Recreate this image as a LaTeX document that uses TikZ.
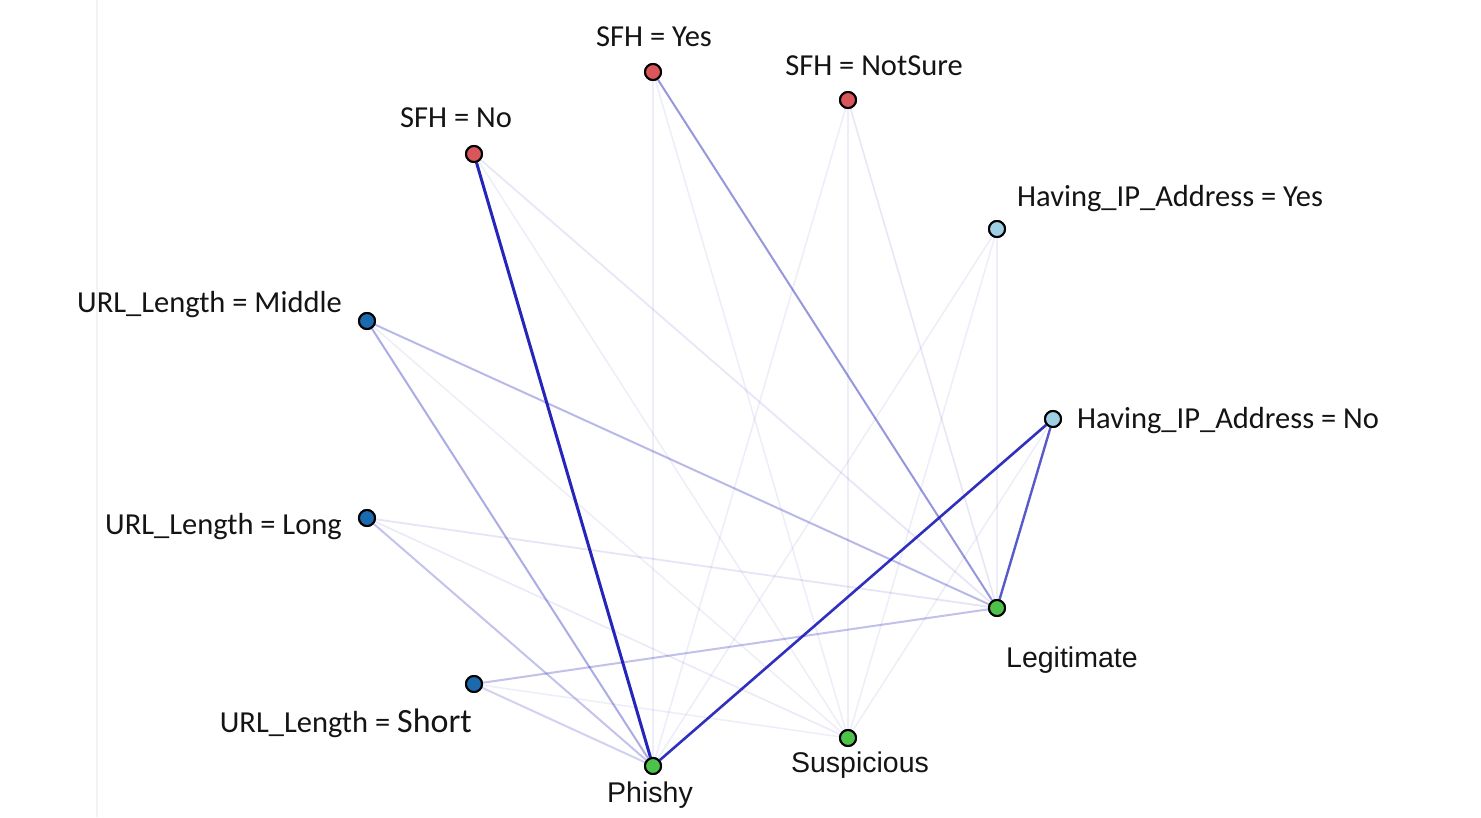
\documentclass[tikz,border=0pt]{standalone}
\usepackage{fontspec}
\setmainfont{Carlito}
\newfontfamily\arialf{Liberation Sans}
\definecolor{redn}{HTML}{D9575A}
\definecolor{lbluen}{HTML}{9ECFE4}
\definecolor{dbluen}{HTML}{1B6AAE}
\definecolor{greenn}{HTML}{4DC24A}
\definecolor{edgeblue}{HTML}{1A1AB8}
\tikzset{
  dot/.style={circle, draw=black, line width=2pt, inner sep=0pt, minimum size=16pt},
  rdot/.style={dot, fill=redn},
  lbdot/.style={dot, fill=lbluen},
  dbdot/.style={dot, fill=dbluen},
  gdot/.style={dot, fill=greenn},
  lab/.style={font=\fontsize{30.5}{32}\selectfont, inner sep=0pt, text=black!92},
  clab/.style={font=\arialf\fontsize{28.5}{30}\selectfont, inner sep=0pt, text=black!92},
  ed/.style={edgeblue, line width=#1},
  faint/.style={ed=1.6pt, opacity=0.07},
  light/.style={ed=1.8pt, opacity=0.16},
  mid/.style={ed=2pt, opacity=0.3},
  strong/.style={ed=2pt, opacity=0.5},
}
\begin{document}
\begin{tikzpicture}[x=1pt,y=-1pt]
\useasboundingbox (0,0) rectangle (1481,817);
\fill[white] (0,0) rectangle (1481,817);
\draw[black!5, line width=1.2pt] (97,0) -- (97,817);
% nodes
\node[rdot]  (sfhyes) at (653,72) {};
\node[rdot]  (sfhns)  at (848,100) {};
\node[rdot]  (sfhno)  at (474,154) {};
\node[lbdot] (ipyes)  at (997,229) {};
\node[dbdot] (urlmid) at (367,321) {};
\node[lbdot] (ipno)   at (1053,419) {};
\node[dbdot] (urllong) at (367,518) {};
\node[gdot]  (legit)  at (997,608) {};
\node[dbdot] (urlshort) at (474,684) {};
\node[gdot]  (susp)   at (848,738) {};
\node[gdot]  (phishy) at (653,766) {};
% edges
\draw[ed=3pt, opacity=0.95] (sfhno) -- (phishy);
\draw[faint] (sfhno) -- (susp);
\draw[light, opacity=0.1] (sfhno) -- (legit);
\draw[faint] (sfhyes) -- (phishy);
\draw[faint] (sfhyes) -- (susp);
\draw[strong, opacity=0.45] (sfhyes) -- (legit);
\draw[faint] (sfhns) -- (phishy);
\draw[faint] (sfhns) -- (susp);
\draw[faint, opacity=0.1] (sfhns) -- (legit);
\draw[faint] (ipyes) -- (phishy);
\draw[faint] (ipyes) -- (susp);
\draw[faint] (ipyes) -- (legit);
\draw[ed=2.6pt, opacity=0.9] (ipno) -- (phishy);
\draw[ed=2.4pt, opacity=0.72] (ipno) -- (legit);
\draw[faint] (ipno) -- (susp);
\draw[mid, opacity=0.36] (urlmid) -- (phishy);
\draw[mid] (urlmid) -- (legit);
\draw[faint] (urlmid) -- (susp);
\draw[mid, opacity=0.26] (urllong) -- (phishy);
\draw[light, opacity=0.11] (urllong) -- (legit);
\draw[faint, opacity=0.09] (urllong) -- (susp);
\draw[mid, opacity=0.2] (urlshort) -- (phishy);
\draw[mid, opacity=0.27] (urlshort) -- (legit);
\draw[faint] (urlshort) -- (susp);
% redraw nodes on top
\node[rdot]  at (sfhyes) {};
\node[rdot]  at (sfhns) {};
\node[rdot]  at (sfhno) {};
\node[lbdot] at (ipyes) {};
\node[dbdot] at (urlmid) {};
\node[lbdot] at (ipno) {};
\node[dbdot] at (urllong) {};
\node[gdot]  at (legit) {};
\node[dbdot] at (urlshort) {};
\node[gdot]  at (susp) {};
\node[gdot]  at (phishy) {};
% labels
\node[lab] (lsfhyes) at (654,37) {SFH = Yes};
\node[lab] (lsfhns) at (874,66) {SFH = NotSure};
\node[lab] (lsfhno) at (456,118) {SFH = No};
\node[lab, anchor=west] (lipyes) at (1017,199) {Having\_IP\_Address = Yes};
\node[lab, anchor=east] (lurlmid) at (342,305) {URL\_Length = Middle};
\node[lab, anchor=west] (lipno) at (1077,421) {Having\_IP\_Address = No};
\node[lab, anchor=east] (lurllong) at (342,527) {URL\_Length = Long};
\node[lab, anchor=east] (lurlshort) at (472,723) {URL\_Length = {\fontsize{34}{36}\selectfont Short}};
\node[clab, anchor=west] (llegit) at (1006,660) {Legitimate};
\node[clab] (lsusp) at (860,765) {Suspicious};
\node[clab] (lphishy) at (650,795) {Phishy};
\end{tikzpicture}
\end{document}
